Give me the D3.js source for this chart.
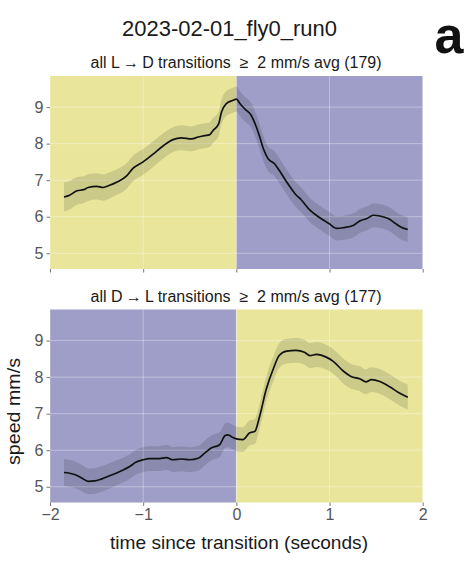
<!DOCTYPE html>
<html>
<head>
<meta charset="utf-8">
<script src="https://cdn.jsdelivr.net/npm/d3@7"></script>
<style>
  html, body { margin: 0; padding: 0; background: #fff; }
  svg { display: block; font-family: "Liberation Sans", Arial, sans-serif; }
  .pre { white-space: pre; }
</style>
</head>
<body>
<svg id="chart" width="474" height="561"></svg>
<script>
// Mean walking speed around light transitions (mm/s), with a shaded error band.
const figTitle = "2023-02-01_fly0_run0";
const panelLabel = "a";
const xTicks = [-2, -1, 0, 1, 2];
const yTicks = [5, 6, 7, 8, 9];
const xLabel = "time since transition (seconds)";
const yLabel = "speed mm/s";

// Light -> dark
const ldTitle = "all L\u2009\u2192\u2009D transitions  \u2265  2 mm/s avg (179)";
const ldTime  = [-1.85,-1.79,-1.71,-1.64,-1.59,-1.50,-1.43,-1.36,-1.28,-1.18,-1.11,-1.00,-0.89,-0.78,-0.68,-0.59,-0.48,-0.41,-0.34,-0.29,-0.25,-0.19,-0.16,-0.11,-0.04,0.00,0.04,0.09,0.16,0.24,0.29,0.34,0.41,0.46,0.54,0.63,0.70,0.79,0.88,0.99,1.08,1.15,1.26,1.33,1.40,1.47,1.54,1.63,1.70,1.77,1.84];
const ldSpeed = [6.54,6.59,6.71,6.74,6.80,6.83,6.80,6.86,6.95,7.11,7.32,7.50,7.72,7.95,8.11,8.16,8.13,8.18,8.22,8.24,8.36,8.54,8.86,9.09,9.18,9.22,9.09,8.95,8.77,8.27,7.86,7.59,7.45,7.27,6.95,6.63,6.45,6.18,6.00,5.82,5.68,5.70,5.77,5.89,5.95,6.04,6.02,5.95,5.83,5.71,5.65];
const ldErr   = [0.40,0.39,0.38,0.37,0.37,0.36,0.36,0.36,0.35,0.35,0.35,0.35,0.35,0.35,0.34,0.34,0.34,0.34,0.34,0.34,0.34,0.34,0.34,0.34,0.34,0.34,0.34,0.34,0.34,0.34,0.34,0.34,0.34,0.34,0.34,0.34,0.34,0.33,0.33,0.33,0.33,0.33,0.33,0.33,0.33,0.33,0.33,0.33,0.33,0.34,0.34];

// Dark -> light
const dlTitle = "all D\u2009\u2192\u2009L transitions  \u2265  2 mm/s avg (177)";
const dlTime  = [-1.85,-1.79,-1.73,-1.66,-1.59,-1.52,-1.45,-1.36,-1.25,-1.14,-1.08,-1.00,-0.93,-0.84,-0.75,-0.68,-0.59,-0.50,-0.41,-0.34,-0.27,-0.18,-0.12,-0.09,-0.04,0.00,0.07,0.14,0.20,0.25,0.32,0.40,0.46,0.54,0.64,0.73,0.79,0.86,0.97,1.04,1.15,1.23,1.33,1.39,1.45,1.54,1.65,1.74,1.84];
const dlSpeed = [5.39,5.37,5.33,5.24,5.15,5.16,5.21,5.30,5.42,5.56,5.67,5.74,5.77,5.77,5.80,5.74,5.76,5.74,5.78,5.92,6.06,6.15,6.40,6.42,6.35,6.31,6.29,6.47,6.52,6.93,7.66,8.25,8.59,8.71,8.73,8.68,8.59,8.62,8.54,8.43,8.16,8.02,7.95,7.87,7.93,7.88,7.73,7.58,7.45];
const dlErr   = [0.37,0.37,0.36,0.36,0.35,0.35,0.35,0.35,0.34,0.34,0.34,0.34,0.34,0.34,0.34,0.34,0.34,0.34,0.34,0.34,0.34,0.34,0.34,0.34,0.34,0.34,0.34,0.34,0.34,0.34,0.34,0.34,0.34,0.34,0.34,0.34,0.34,0.34,0.34,0.34,0.34,0.34,0.34,0.34,0.34,0.34,0.34,0.34,0.34];

const lightColor = "#e9e69c";
const darkColor  = "#9e9ec8";

const svg = d3.select("#chart");
const left = 50, right = 422.7;
const x = d3.scaleLinear().domain([-2, 2]).range([left, right]);

svg.append("text")
  .attr("x", 229.5).attr("y", 36)
  .attr("text-anchor", "middle")
  .attr("font-size", 21.5).attr("fill", "#1a1a1a")
  .attr("textLength", 215).attr("lengthAdjust", "spacingAndGlyphs")
  .text(figTitle);

svg.append("text")
  .attr("x", 449).attr("y", 53)
  .attr("text-anchor", "middle")
  .attr("font-size", 52).attr("font-weight", "bold").attr("fill", "#111")
  .text(panelLabel);

function panel(top, bottom, title, time, speed, err, beforeColor, afterColor, showX) {
  const y = d3.scaleLinear().domain([4.57, 9.85]).range([bottom, top]);
  const g = svg.append("g");

  g.append("text")
    .attr("class", "pre")
    .attr("x", 236).attr("y", top - 8)
    .attr("text-anchor", "middle")
    .attr("font-size", 16).attr("fill", "#1a1a1a")
    .attr("textLength", 291).attr("lengthAdjust", "spacingAndGlyphs")
    .text(title);

  // background spans before / after the transition
  g.append("rect").attr("x", x(-2)).attr("y", top)
    .attr("width", x(0) - x(-2)).attr("height", bottom - top).attr("fill", beforeColor);
  g.append("rect").attr("x", x(0)).attr("y", top)
    .attr("width", x(2) - x(0)).attr("height", bottom - top).attr("fill", afterColor);

  // grid
  g.append("g").selectAll("line").data(yTicks).join("line")
    .attr("x1", left).attr("x2", right)
    .attr("y1", d => y(d)).attr("y2", d => y(d))
    .attr("stroke", "#fff").attr("stroke-opacity", 0.35).attr("stroke-width", 1);
  g.append("g").selectAll("line").data(xTicks).join("line")
    .attr("x1", d => x(d)).attr("x2", d => x(d))
    .attr("y1", top).attr("y2", bottom)
    .attr("stroke", "#fff").attr("stroke-opacity", 0.35).attr("stroke-width", 1);

  const data = time.map((t, i) => ({ t, v: speed[i], e: err[i] }));

  g.append("path").datum(data)
    .attr("fill", "#000").attr("fill-opacity", 0.12)
    .attr("d", d3.area().x(d => x(d.t)).y0(d => y(d.v - d.e)).y1(d => y(d.v + d.e)).curve(d3.curveMonotoneX));

  g.append("path").datum(data)
    .attr("fill", "none").attr("stroke", "#111").attr("stroke-width", 1.7)
    .attr("stroke-linejoin", "round")
    .attr("d", d3.line().x(d => x(d.t)).y(d => y(d.v)).curve(d3.curveMonotoneX));

  // y axis
  const ya = g.append("g").attr("transform", `translate(${left},0)`)
    .call(d3.axisLeft(y).tickValues(yTicks).tickSize(3.5).tickPadding(3).tickFormat(d3.format("d")));
  ya.select(".domain").remove();
  ya.selectAll("line").attr("stroke", "#777");
  ya.selectAll("text").attr("font-size", 16).attr("fill", "#555").attr("font-family", "Liberation Sans, Arial, sans-serif");

  // x axis
  const xa = g.append("g").attr("transform", `translate(0,${bottom})`)
    .call(d3.axisBottom(x).tickValues(xTicks).tickSize(3.5).tickPadding(3)
      .tickFormat(d => showX ? (d < 0 ? "\u2212" + Math.abs(d) : String(d)) : ""));
  xa.select(".domain").remove();
  xa.selectAll("line").attr("stroke", "#777");
  xa.selectAll("text").attr("font-size", 16).attr("fill", "#555").attr("font-family", "Liberation Sans, Arial, sans-serif");
  return y;
}

panel(76, 269, ldTitle, ldTime, ldSpeed, ldErr, lightColor, darkColor, false);
panel(309.5, 502.5, dlTitle, dlTime, dlSpeed, dlErr, darkColor, lightColor, true);

svg.append("text")
  .attr("x", 239).attr("y", 549)
  .attr("text-anchor", "middle")
  .attr("font-size", 19).attr("fill", "#1a1a1a")
  .attr("textLength", 258).attr("lengthAdjust", "spacingAndGlyphs")
  .text(xLabel);

svg.append("text")
  .attr("transform", "translate(20,411.5) rotate(-90)")
  .attr("text-anchor", "middle")
  .attr("font-size", 18.5).attr("fill", "#1a1a1a")
  .attr("textLength", 107).attr("lengthAdjust", "spacingAndGlyphs")
  .text(yLabel);
</script>
</body>
</html>
